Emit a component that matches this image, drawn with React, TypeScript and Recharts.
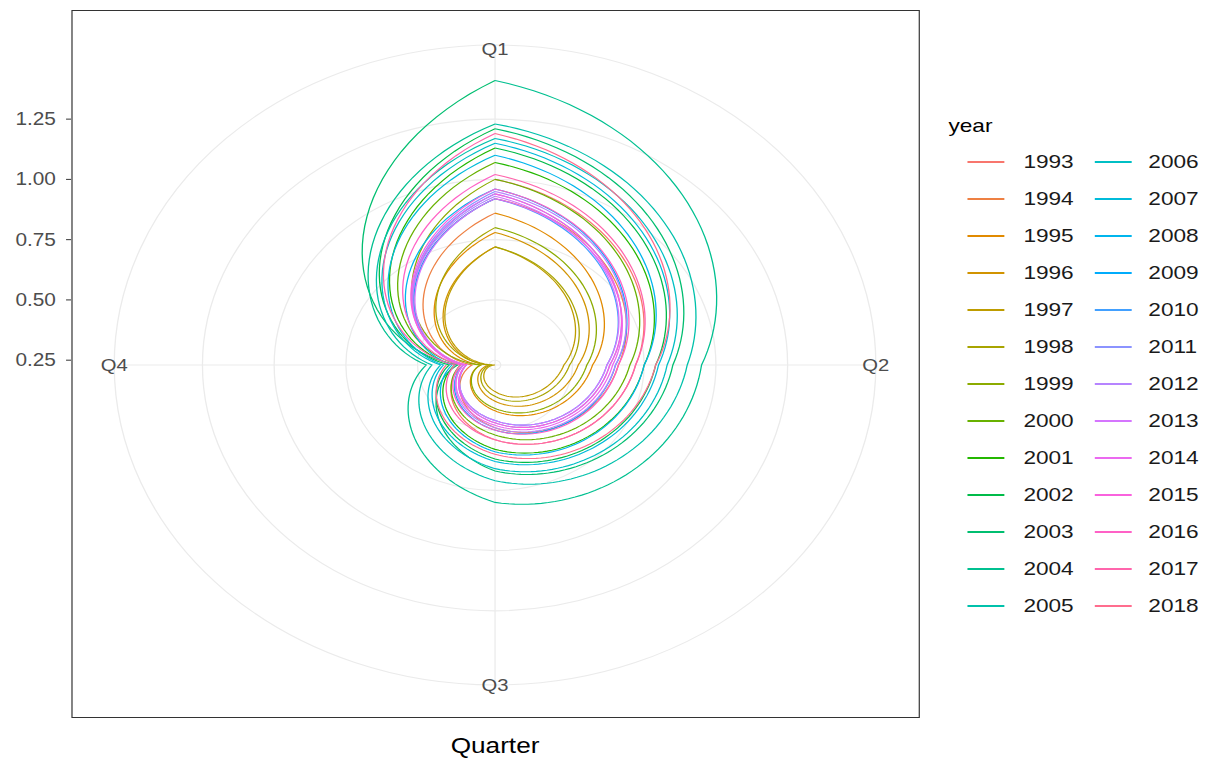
import React from 'react';
import { RadarChart, Radar, PolarGrid, PolarAngleAxis, PolarRadiusAxis } from 'recharts';

const YEARS = [
  1993, 1994, 1995, 1996, 1997, 1998, 1999, 2000, 2001, 2002, 2003, 2004, 2005,
  2006, 2007, 2008, 2009, 2010, 2011, 2012, 2013, 2014, 2015, 2016, 2017, 2018,
];
const QUARTERS = ['Q1', 'Q2', 'Q3', 'Q4'];

// one value per year, per quarter
const Q1_VALUES = [1.0, 0.92, 0.86, 0.78, 0.72, 0.72, 0.8, 1.0, 1.07, 1.13, 1.21, 1.41, 1.23, 1.17, 1.15, 1.1, 0.96, 0.92, 0.94, 0.95, 0.93, 0.92, 0.94, 0.96, 1.02, 1.19];
const Q2_VALUES = [0.72, 0.66, 0.57, 0.52, 0.47, 0.49, 0.55, 0.7, 0.75, 0.79, 0.85, 0.95, 0.9, 0.83, 0.8, 0.75, 0.65, 0.62, 0.63, 0.65, 0.62, 0.64, 0.63, 0.66, 0.72, 0.79];
const Q3_VALUES = [0.54, 0.49, 0.42, 0.38, 0.34, 0.36, 0.41, 0.52, 0.58, 0.62, 0.67, 0.8, 0.71, 0.66, 0.63, 0.59, 0.5, 0.46, 0.47, 0.49, 0.46, 0.48, 0.47, 0.5, 0.54, 0.6];
const Q4_VALUES = [0.34, 0.31, 0.28, 0.25, 0.23, 0.24, 0.28, 0.35, 0.37, 0.39, 0.36, 0.47, 0.45, 0.42, 0.41, 0.38, 0.34, 0.33, 0.33, 0.34, 0.33, 0.34, 0.33, 0.35, 0.37, 0.4];

const RADIUS_TICKS = [0.25, 0.5, 0.75, 1.0, 1.25];

const BY_QUARTER = [Q1_VALUES, Q2_VALUES, Q3_VALUES, Q4_VALUES];
const rows = QUARTERS.map((q, j) => {
  const row: any = { quarter: q };
  YEARS.forEach((y, i) => { row[String(y)] = BY_QUARTER[j][i]; });
  return row;
});

// coord_polar: data range maps to 0..0.4 of the panel, outer ring at 0.45
const allValues = BY_QUARTER.flat();
const R_MIN = Math.min(...allValues);
const R_MAX = Math.max(...allValues);
const R_OUTER = R_MIN + ((R_MAX - R_MIN) * 0.45) / 0.4;

// linear radius scale with a fixed domain (recharts would otherwise pull it down to 0)
function fixedLinear(d0: number, d1: number): any {
  let range = [0, 1];
  const scale: any = (v: number) => range[0] + ((v - d0) / (d1 - d0)) * (range[1] - range[0]);
  scale.domain = (x?: any) => (x === undefined ? [d0, d1] : scale);
  scale.range = (x?: any) => {
    if (x === undefined) return range.slice();
    range = [Number(x[0]), Number(x[1])];
    return scale;
  };
  scale.copy = () => fixedLinear(d0, d1).range(range);
  scale.ticks = () => RADIUS_TICKS.slice();
  scale.tickFormat = () => (v: number) => String(v);
  scale.invert = (px: number) => d0 + ((px - range[0]) / (range[1] - range[0])) * (d1 - d0);
  scale.nice = () => scale;
  scale.clamp = () => scale;
  return scale;
}

// the picture is stretched horizontally, so draw narrow and scale X
const SX = 1.19;
const W = Math.round(1215 / SX);
const CX = 416;
const CY = 365;
const OUTER = 320;

const FONT = '"Liberation Sans", Arial, Helvetica, sans-serif';

// ggplot hue palette (hcl, c=100, l=65)
function hcl(h: number, c = 100, l = 65) {
  const hr = (h * Math.PI) / 180;
  const U = c * Math.cos(hr);
  const V = c * Math.sin(hr);
  const Y = Math.pow((l + 16) / 116, 3);
  const un = 0.19784;
  const vn = 0.46834;
  const up = U / (13 * l) + un;
  const vp = V / (13 * l) + vn;
  const X = (Y * 9 * up) / (4 * vp);
  const Z = (Y * (12 - 3 * up - 20 * vp)) / (4 * vp);
  const lin = [
    3.240479 * X - 1.53715 * Y - 0.498535 * Z,
    -0.969256 * X + 1.875992 * Y + 0.041556 * Z,
    0.055648 * X - 0.204043 * Y + 1.057311 * Z,
  ];
  const hex = lin.map((v) => {
    const g = v <= 0.0031308 ? 12.92 * v : 1.055 * Math.pow(v, 1 / 2.4) - 0.055;
    const n = Math.max(0, Math.min(255, Math.round(g * 255)));
    return n.toString(16).padStart(2, '0');
  });
  return '#' + hex.join('');
}
const COLORS = YEARS.map((_, i) => hcl(15 + (360 * i) / YEARS.length));

// draw a radar series the way coord_polar does: radius changes linearly with angle,
// and each year runs on to the next year's Q1
const makeSpiral = (idx: number) => (props: any) => {
  const points = props.points || [];
  if (points.length < 2) return <g />;
  const cx = points[0].cx ?? CX;
  const cy = points[0].cy ?? CY;
  const step = points[1].angle - points[0].angle;
  const pts = points.map((p: any) => ({ r: p.radius, a: p.angle }));
  const next = Q1_VALUES[idx + 1];
  if (next !== undefined) {
    const ref = points.reduce((m: any, p: any) => (p.value > m.value ? p : m), points[0]);
    const rNext = (ref.radius * (next - R_MIN)) / (ref.value - R_MIN);
    pts.push({ r: rNext, a: points[points.length - 1].angle + step });
  }
  let d = '';
  const N = 40;
  for (let j = 0; j < pts.length - 1; j++) {
    const p0 = pts[j];
    const p1 = pts[j + 1];
    for (let k = j === 0 ? 0 : 1; k <= N; k++) {
      const t = k / N;
      const a = ((p0.a + (p1.a - p0.a) * t) * Math.PI) / 180;
      const r = p0.r + (p1.r - p0.r) * t;
      const x = cx + r * Math.cos(-a);
      const y = cy + r * Math.sin(-a);
      d += (d ? 'L' : 'M') + x.toFixed(2) + ',' + y.toFixed(2);
    }
  }
  return <path d={d} fill="none" stroke={COLORS[idx]} strokeWidth={1.1} />;
};

// quarter labels sit on the outer ring
const AngleTick = (props: any) => {
  const dx = props.x - CX;
  const dy = props.y - CY;
  const len = Math.sqrt(dx * dx + dy * dy) || 1;
  const x = CX + (dx * OUTER) / len;
  const y = CY + (dy * OUTER) / len + (dy < -1 ? 4 : 0);
  return (
    <text x={x} y={y} textAnchor="middle" dominantBaseline="central" fill="#4D4D4D" fontSize={17} fontFamily={FONT}>
      {props.payload.value}
    </text>
  );
};

const RadiusTick = (props: any) => {
  const { y, payload } = props;
  if (payload.value > RADIUS_TICKS[RADIUS_TICKS.length - 1] + 0.01) return <g />;
  return (
    <g>
      <line x1={55.5} x2={59.7} y1={y} y2={y} stroke="#333333" strokeWidth={1} />
      <text x={47} y={y} textAnchor="end" dominantBaseline="central" fill="#4D4D4D" fontSize={17.5} fontFamily={FONT}>
        {Number(payload.value).toFixed(2)}
      </text>
    </g>
  );
};

const App: React.FC = () => {
  return (
    <div
      style={{
        position: 'absolute', left: 0, top: 0, width: W, height: 765,
        transform: `scaleX(${SX})`, transformOrigin: '0 0',
        background: '#ffffff', fontFamily: FONT, overflow: 'hidden',
      }}
    >
      <RadarChart
        width={W}
        height={765}
        data={rows}
        cx={CX}
        cy={CY}
        innerRadius={0}
        outerRadius={OUTER}
        margin={{ top: 0, right: 0, bottom: 0, left: 0 }}
      >
        <PolarGrid gridType="circle" stroke="#EBEBEB" strokeWidth={1.1} />
        <PolarAngleAxis dataKey="quarter" tick={AngleTick} tickLine={false} axisLine={false} tickSize={0} />
        <PolarRadiusAxis
          angle={90}
          type="number"
          scale={fixedLinear(R_MIN, R_OUTER)}
          domain={[R_MIN, R_OUTER]}
          allowDataOverflow
          ticks={[...RADIUS_TICKS, R_OUTER]}
          tick={RadiusTick}
          axisLine={false}
        />
        {YEARS.map((y, i) => (
          <Radar
            key={y}
            dataKey={String(y)}
            stroke={COLORS[i]}
            fill="none"
            dot={false}
            isAnimationActive={false}
            shape={makeSpiral(i)}
          />
        ))}
      </RadarChart>

      {/* panel border */}
      <div
        style={{
          position: 'absolute', left: 59.7, top: 10, width: 713.4, height: 708,
          border: '1px solid #333333', boxSizing: 'border-box', pointerEvents: 'none',
        }}
      />

      {/* x axis title */}
      <div style={{ position: 'absolute', left: CX - 70, width: 140, top: 733, textAlign: 'center', fontSize: 22, color: '#000', lineHeight: '26px' }}>
        Quarter
      </div>

      {/* legend */}
      <div style={{ position: 'absolute', left: 797, top: 114, fontSize: 19, color: '#000', lineHeight: '24px' }}>year</div>
      {YEARS.map((y, i) => {
        const col = i < 13 ? 0 : 1;
        const row = i % 13;
        const cy = 162 + row * 37;
        return (
          <React.Fragment key={y}>
            <div style={{ position: 'absolute', left: col ? 920 : 812.6, top: cy - 0.75, width: 31, height: 1.5, background: COLORS[i] }} />
            <div style={{ position: 'absolute', left: col ? 965 : 860, top: cy - 11, fontSize: 19, lineHeight: '22px', color: '#1A1A1A' }}>
              {y}
            </div>
          </React.Fragment>
        );
      })}
    </div>
  );
};

export default App;
